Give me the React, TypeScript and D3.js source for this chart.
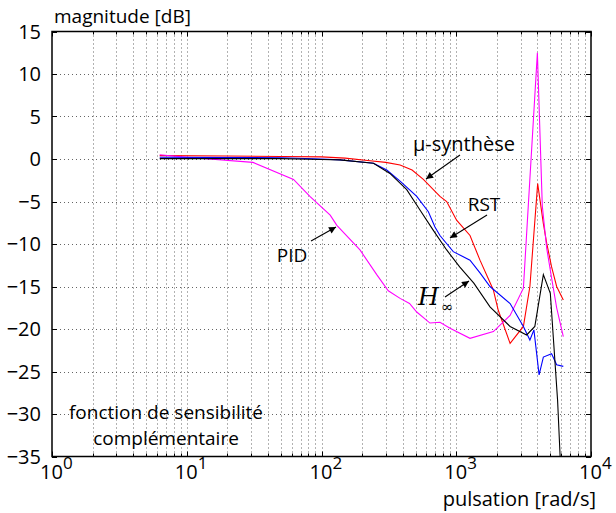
import React from "react";
import * as d3 from "d3";

// ---- data ----
const omegaMu = [6.3, 20, 50, 100, 150, 229, 300, 383, 470, 570, 757, 849, 1006, 1265, 1500, 1885, 2050, 2510, 3150, 3520, 4020, 4430, 4690, 5100, 5560, 6230];
const dbMu = [0.4, 0.35, 0.3, 0.25, 0.1, -0.2, -0.4, -0.7, -1.3, -2.4, -4.4, -5.0, -7.2, -9.0, -11.9, -15.4, -17.8, -21.7, -19.7, -15.0, -2.9, -7.6, -9.9, -12.7, -15.0, -16.6];

const omegaPid = [6.3, 10, 31, 62, 82, 116, 130, 193, 257, 313, 383, 450, 509, 638, 757, 899, 1265, 1885, 2510, 3150, 4000, 4350, 4690, 5100, 5560, 6230];
const dbPid = [0.5, 0.2, -0.4, -2.4, -4.4, -6.6, -7.8, -10.7, -13.6, -15.5, -16.4, -17.0, -18.0, -19.3, -19.2, -19.9, -21.1, -20.3, -18.4, -15.2, 12.5, -5.5, -10.5, -14.0, -17.5, -20.9];

const omegaRst = [6.3, 50, 100, 137, 243, 305, 383, 509, 621, 695, 757, 950, 1265, 1500, 1780, 2510, 3150, 3520, 3770, 4120, 4430, 5100, 5560, 6230];
const dbRst = [0.2, 0.15, 0.0, -0.1, -0.5, -1.3, -2.6, -4.4, -6.2, -8.0, -9.0, -10.9, -11.9, -13.4, -15.0, -17.0, -19.7, -21.3, -20.1, -25.4, -23.3, -22.9, -24.2, -24.4];

const omegaHinf = [6.3, 50, 100, 137, 243, 322, 429, 538, 676, 849, 1060, 1350, 1780, 2510, 3330, 3830, 4430, 4990, 5650, 5900];
const dbHinf = [0.05, 0.05, -0.05, -0.1, -0.5, -1.7, -3.6, -6.0, -8.4, -10.7, -12.7, -14.6, -17.4, -19.7, -20.7, -19.7, -13.6, -15.8, -28.4, -35];

const yTicks = [15, 10, 5, 0, -5, -10, -15, -20, -25, -30, -35];
const xDecades = [0, 1, 2, 3, 4];

const seriesColors = ["#ff0000", "#ff00ff", "#0000ff", "#000000"];

const W = 616, H = 513;
const M = { left: 52, top: 31.5, right: 591, bottom: 456.5 };
const FONT = "'Open Sans', 'DejaVu Sans', sans-serif";
const SERIF = "'DejaVu Serif', 'Liberation Serif', serif";

export default function App() {
  const x = d3.scaleLog().domain([1, 10000]).range([M.left, M.right]);
  const y = d3.scaleLinear().domain([-35, 15]).range([M.bottom, M.top]);

  const mk = (om: number[], db: number[]) =>
    d3.line<number>().x((_, i) => x(om[i])).y((_, i) => y(db[i]))(om as any) || "";

  const series = [
    mk(omegaMu, dbMu),
    mk(omegaPid, dbPid),
    mk(omegaRst, dbRst),
    mk(omegaHinf, dbHinf),
  ];

  const minorX: number[] = [];
  for (let d = 0; d < 4; d++) for (let k = 2; k <= 9; k++) minorX.push(k * Math.pow(10, d));
  const majorX = xDecades.map((d) => Math.pow(10, d));

  const arrows = [
    { x1: 460, y1: 155, x2: 426, y2: 179 },
    { x1: 487, y1: 215, x2: 450, y2: 238 },
    { x1: 445, y1: 297, x2: 469, y2: 281 },
    { x1: 311, y1: 241, x2: 336, y2: 227 },
  ];

  const px = (v: number) => Math.round(x(v)) + 0.5;
  const py = (v: number) => Math.round(y(v)) + 0.5;

  return (
    <svg width={W} height={H} style={{ position: "absolute", left: 0, top: 0, background: "#fff" }}>
      <defs>
        <clipPath id="plot">
          <rect x={M.left} y={M.top} width={M.right - M.left} height={M.bottom - M.top} />
        </clipPath>
        <marker id="ah" viewBox="0 0 10 10" refX="10" refY="5" markerWidth="10" markerHeight="7" orient="auto" markerUnits="userSpaceOnUse">
          <path d="M0,0 L10,5 L0,10 z" fill="#000" />
        </marker>
      </defs>
      <rect x={0} y={0} width={W} height={H} fill="#fff" />
      {/* grid */}
      <g stroke="#000" strokeWidth={1} strokeDasharray="1,3" opacity={0.6}>
        {minorX.concat(majorX.slice(1, 4)).map((v, i) => (
          <line key={"gx" + i} x1={px(v)} x2={px(v)} y1={M.top} y2={M.bottom} />
        ))}
        {yTicks.slice(1, -1).map((v, i) => (
          <line key={"gy" + i} x1={M.left} x2={M.right} y1={py(v)} y2={py(v)} />
        ))}
      </g>
      {/* ticks */}
      <g stroke="#000" strokeWidth={1}>
        {yTicks.map((v, i) => (
          <g key={"ty" + i}>
            <line x1={M.left} x2={M.left + 5} y1={py(v)} y2={py(v)} />
            <line x1={M.right} x2={M.right - 5} y1={py(v)} y2={py(v)} />
          </g>
        ))}
        {majorX.map((v, i) => (
          <g key={"tx" + i}>
            <line x1={px(v)} x2={px(v)} y1={M.bottom} y2={M.bottom - 5} />
            <line x1={px(v)} x2={px(v)} y1={M.top} y2={M.top + 5} />
          </g>
        ))}
        {minorX.map((v, i) => (
          <g key={"tmx" + i}>
            <line x1={px(v)} x2={px(v)} y1={M.bottom} y2={M.bottom - 3} />
            <line x1={px(v)} x2={px(v)} y1={M.top} y2={M.top + 3} />
          </g>
        ))}
      </g>
      {/* curves */}
      <g clipPath="url(#plot)" fill="none" strokeWidth={1.1}>
        {series.map((d, i) => (
          <path key={"s" + i} d={d} stroke={seriesColors[i]} />
        ))}
      </g>
      {/* frame */}
      <rect x={M.left} y={M.top} width={M.right - M.left} height={M.bottom - M.top} fill="none" stroke="#000" strokeWidth={1.5} />
      {/* y labels */}
      <g fontFamily={FONT} fontSize={20} fill="#000" textAnchor="end">
        {yTicks.map((v, i) => (
          <text key={"ly" + i} x={M.left - 11} y={y(v) + 7}>
            {v < 0 ? "\u2212" + Math.abs(v) : String(v)}
          </text>
        ))}
      </g>
      {/* x labels */}
      <g fontFamily={FONT} fontSize={20} fill="#000">
        {xDecades.map((d, i) => (
          <text key={"lx" + i} x={x(Math.pow(10, d)) - 12} y={M.bottom + 22}>
            <tspan>10</tspan>
            <tspan dy={-10} fontSize={17}>{d}</tspan>
          </text>
        ))}
      </g>
      <g fontFamily={FONT} fontSize={19} fill="#000">
        <text x={596} y={506} textAnchor="end" fontSize={20}>pulsation [rad/s]</text>
        <text x={54} y={23}>magnitude [dB]</text>
        <text x={166} y={419} textAnchor="middle">fonction de sensibilité</text>
        <text x={166} y={445} textAnchor="middle">complémentaire</text>
        <text x={464} y={151} textAnchor="middle" fontSize={20}>µ-synthèse</text>
        <text x={484} y={211} textAnchor="middle">RST</text>
        <text x={292} y={262} textAnchor="middle">PID</text>
      </g>
      <text x={418} y={305} fontFamily={SERIF} fontStyle="italic" fontSize={24}>
        H
      </text>
      <text x={441} y={312} fontFamily={SERIF} fontSize={15}>
        ∞
      </text>
      {/* arrows */}
      <g stroke="#000" strokeWidth={1.1}>
        {arrows.map((a, i) => (
          <line key={"a" + i} x1={a.x1} y1={a.y1} x2={a.x2} y2={a.y2} markerEnd="url(#ah)" />
        ))}
      </g>
    </svg>
  );
}
